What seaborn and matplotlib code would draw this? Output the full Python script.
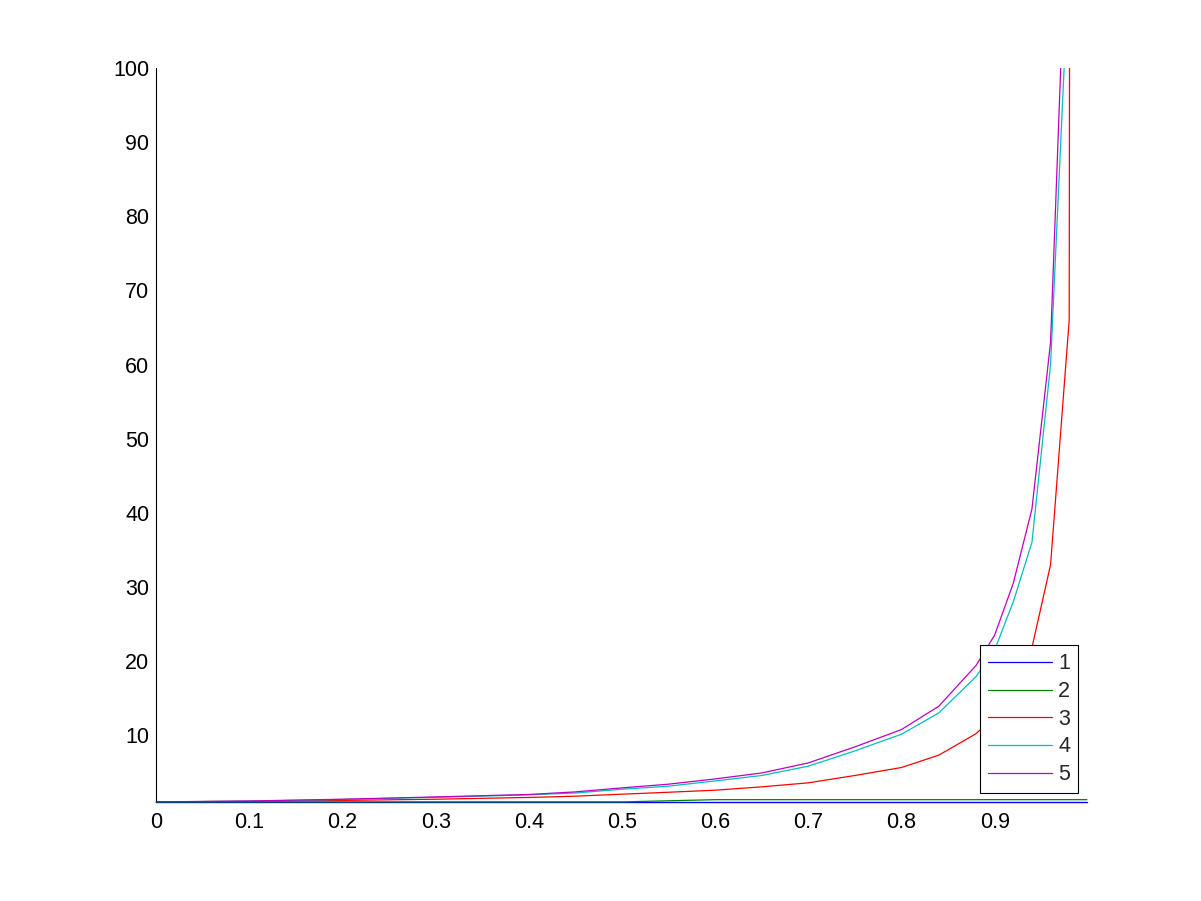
import numpy as np
import pandas as pd
import seaborn as sns
import matplotlib
matplotlib.use("Agg")
import matplotlib.pyplot as plt

# sample positions along x
x = [0, 0.1, 0.2, 0.3, 0.4, 0.45, 0.5, 0.55, 0.6, 0.65, 0.7, 0.75, 0.8, 0.84,
     0.88, 0.9, 0.92, 0.94, 0.96, 0.98, 0.999]

s1 = [1.0] * len(x)
s2 = [1.0, 1.0, 1.0, 1.0, 1.0, 1.0, 1.0, 1.15, 1.3, 1.3, 1.3, 1.3, 1.3, 1.3,
      1.3, 1.3, 1.3, 1.3, 1.3, 1.3, 1.3]
s3 = [1.0, 1.08, 1.2, 1.36, 1.6, 1.77, 2.04, 2.3, 2.58, 3.03, 3.57, 4.56, 5.64, 7.3,
      10.2, 12.5, 16.0, 21.8, 33.0, 66.0, 2000]
s4 = [1.0, 1.1, 1.33, 1.62, 1.95, 2.2, 2.71, 3.12, 3.83, 4.56, 5.82, 7.88, 10.13, 13.0,
      17.9, 21.5, 28.0, 36.0, 60.0, 115.0, 2000]
s5 = [1.0, 1.12, 1.36, 1.67, 2.0, 2.35, 2.89, 3.39, 4.1, 4.9, 6.26, 8.42, 10.76, 13.9,
      19.4, 23.5, 30.5, 40.5, 63.0, 131.0, 2500]

labels = ["1", "2", "3", "4", "5"]
colors = ["#0000ff", "#008000", "#ff0000", "#00bfbf", "#bf00bf"]

sns.set_style("white")
plt.rcParams['font.family'] = ['Liberation Sans', 'DejaVu Sans']

fig = plt.figure(figsize=(12.01, 9.01), dpi=100)
ax = fig.add_axes([0.130, 0.110, 0.775, 0.8145])

for i, (ys, lab, col) in enumerate(zip([s1, s2, s3, s4, s5], labels, colors)):
    df = pd.DataFrame({"x": x, "y": ys})
    extra = {"clip_on": False, "zorder": 3} if i < 2 else {}
    sns.lineplot(data=df, x="x", y="y", color=col, label=lab, linewidth=0.9, ax=ax, **extra)

ax.set_xlim(0, 0.999)
ax.set_ylim(1, 100)
ax.set_xticks([0, 0.1, 0.2, 0.3, 0.4, 0.5, 0.6, 0.7, 0.8, 0.9])
ax.set_xticklabels(["0", "0.1", "0.2", "0.3", "0.4", "0.5", "0.6", "0.7", "0.8", "0.9"])
ax.set_yticks([10, 20, 30, 40, 50, 60, 70, 80, 90, 100])
ax.set_yticklabels(["10", "20", "30", "40", "50", "60", "70", "80", "90", "100"])
ax.set_xlabel("")
ax.set_ylabel("")
ax.tick_params(direction="in", length=8, width=0.8, labelsize=15.5, colors="black")
ax.tick_params(axis="x", pad=7)
ax.tick_params(axis="y", pad=5)
for side in ["top", "right"]:
    ax.spines[side].set_visible(False)
for side in ["left", "bottom"]:
    ax.spines[side].set_color("black")
    ax.spines[side].set_linewidth(0.8)

leg = ax.legend(loc="lower right", fontsize=15.5, handlelength=2.95, labelspacing=0.31,
                borderaxespad=0.4, fancybox=False, framealpha=1, handletextpad=0.3,
                borderpad=0.38)
leg.get_frame().set_edgecolor("black")
leg.get_frame().set_linewidth(0.8)

fig.savefig("out.png", dpi=100)
